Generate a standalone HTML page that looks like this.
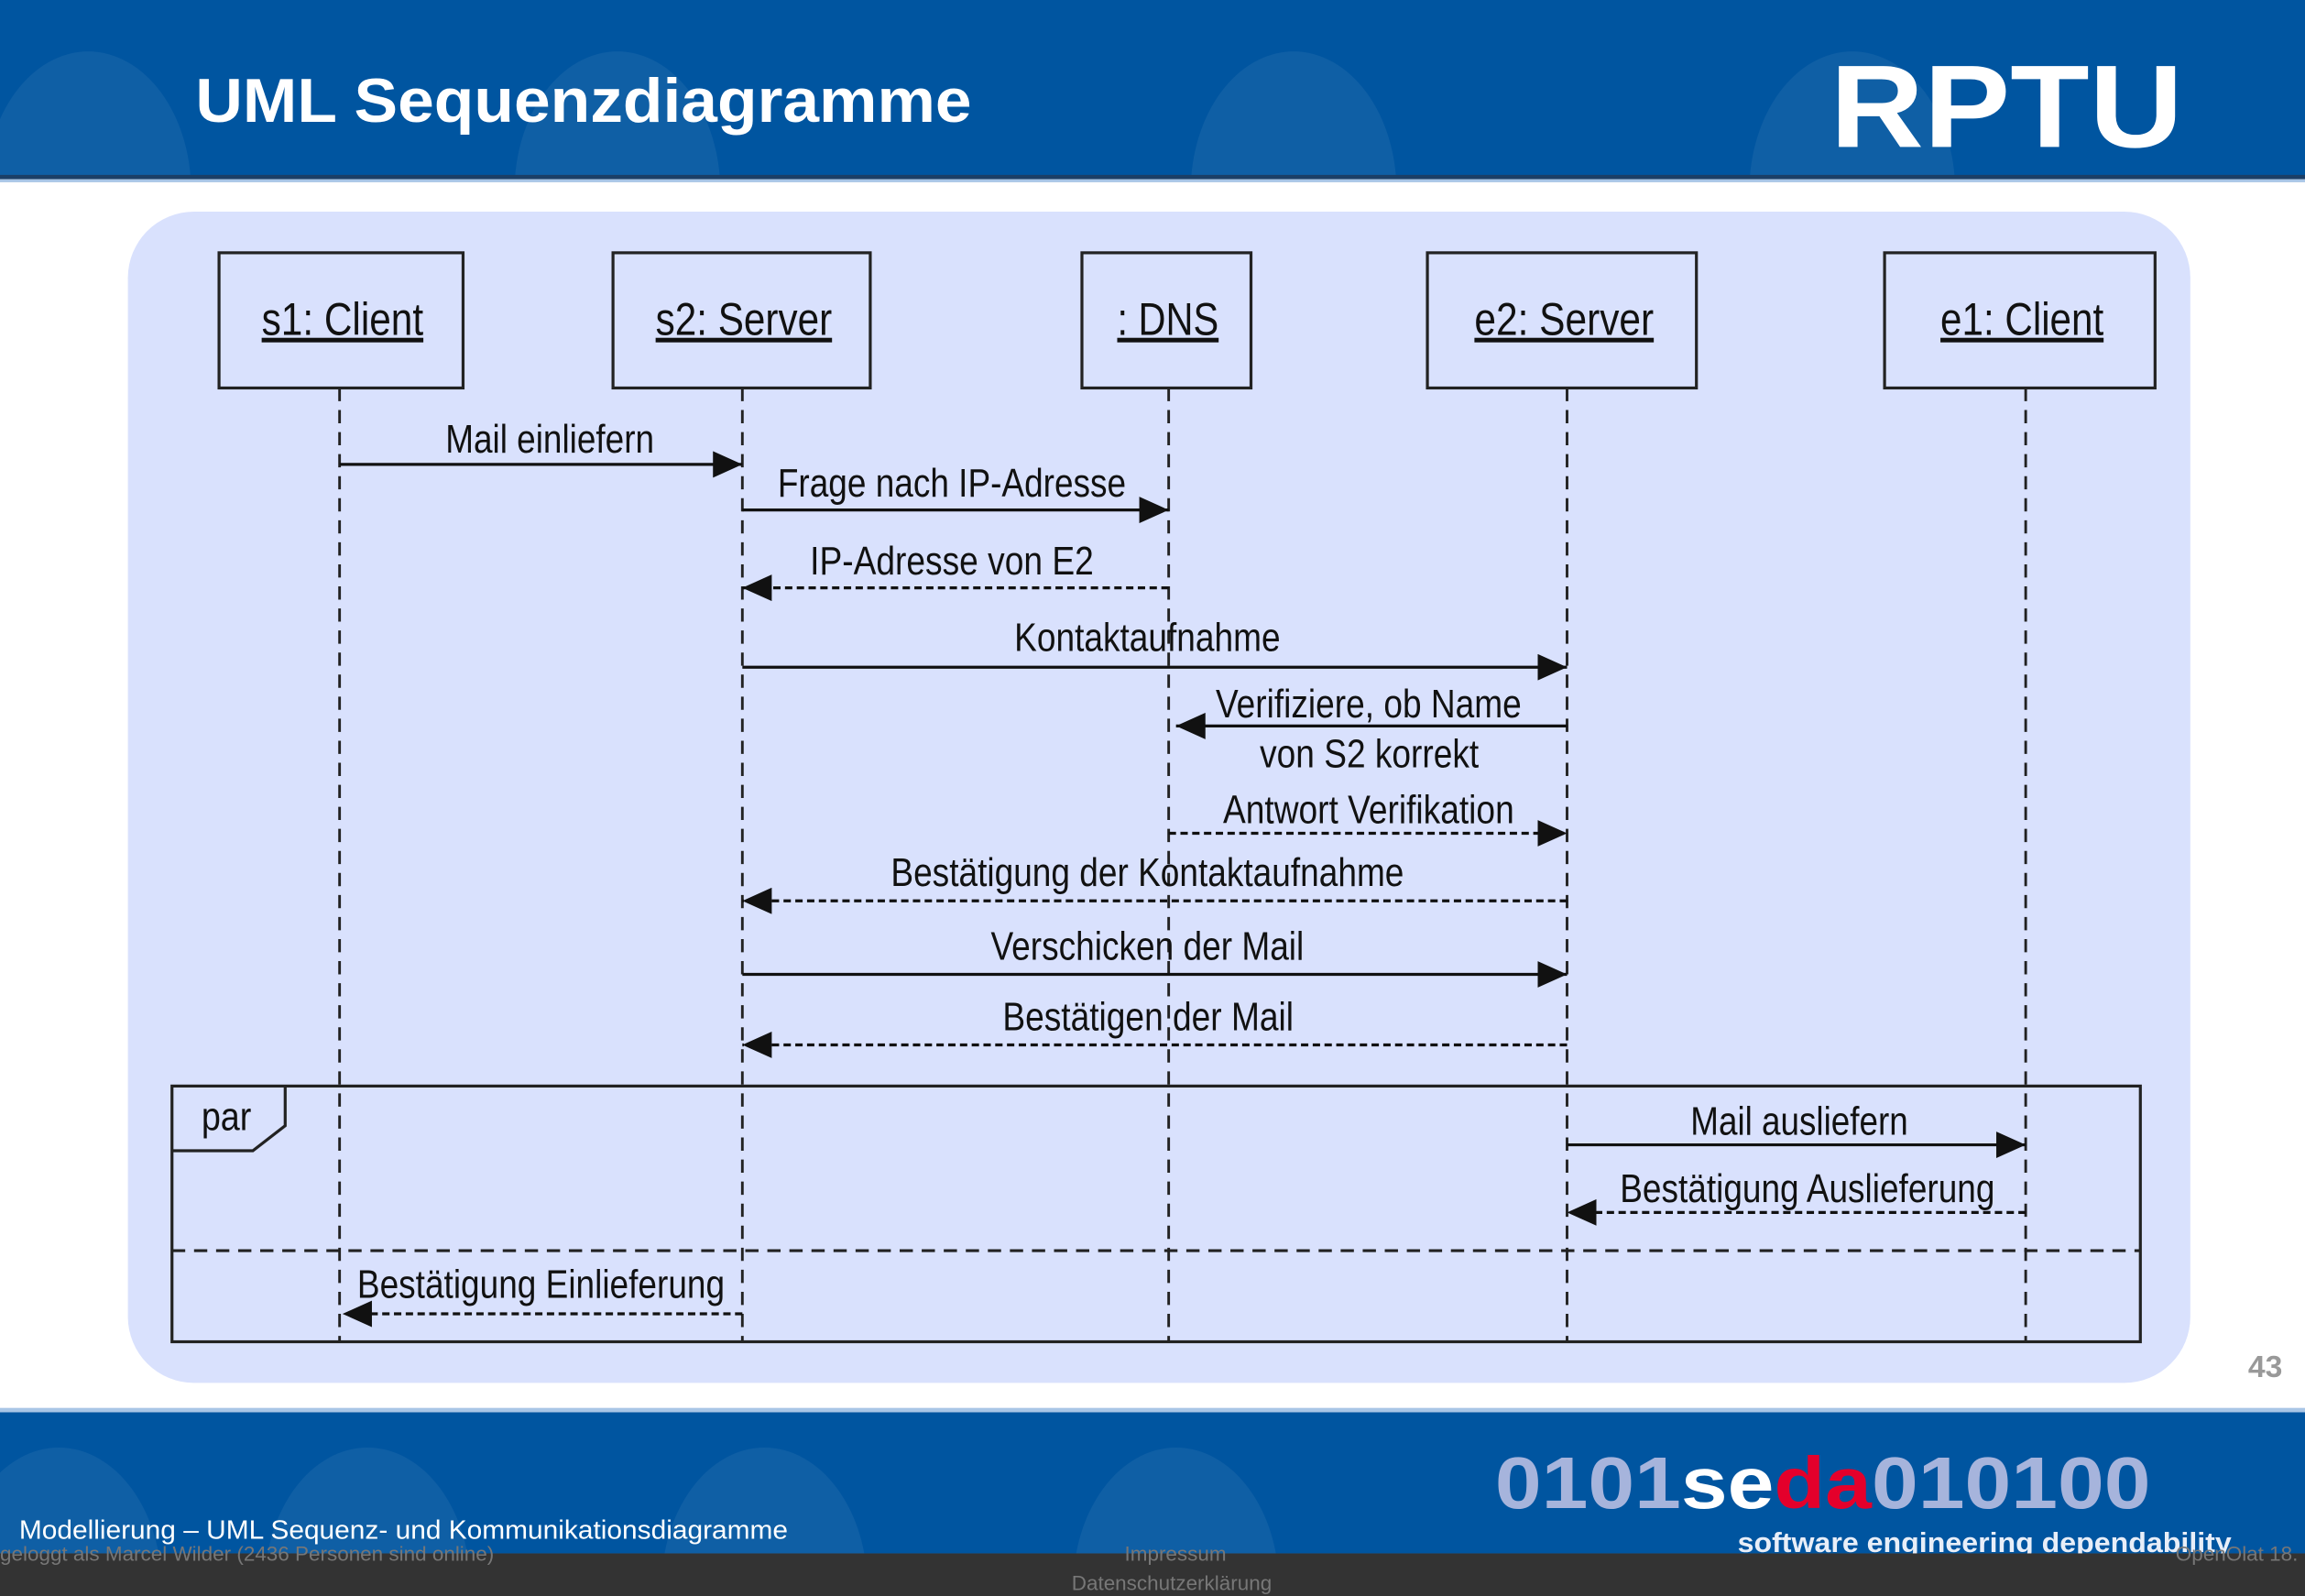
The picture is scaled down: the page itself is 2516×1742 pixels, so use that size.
<!DOCTYPE html>
<html><head><meta charset="utf-8"><style>
html,body{margin:0;padding:0;background:#fff;overflow:hidden;width:2516px;height:1742px}
svg{display:block;position:absolute;left:0;top:0;overflow:hidden}
text{font-family:"Liberation Sans",sans-serif}
</style></head><body>
<svg width="2516" height="1742" viewBox="0 0 1568 1086" preserveAspectRatio="none" xmlns="http://www.w3.org/2000/svg">
<defs>
<marker id="a" markerWidth="20" markerHeight="18" refX="20" refY="9" orient="auto" markerUnits="userSpaceOnUse"><path d="M0,0 L20,9 L0,18 Z" fill="#111"/></marker>
</defs>
<rect x="0" y="0" width="1568" height="121" fill="#0055a0"/>
<g fill="#ffffff" opacity="0.06">
<ellipse cx="60" cy="130" rx="70" ry="95"/><ellipse cx="420" cy="130" rx="70" ry="95"/><ellipse cx="880" cy="130" rx="70" ry="95"/><ellipse cx="1260" cy="130" rx="70" ry="95"/>
</g>
<rect x="0" y="119" width="1568" height="3" fill="#1b3f66"/>
<rect x="0" y="122" width="1568" height="2" fill="#a9c6e6"/>
<text x="133" y="83" font-weight="bold" font-size="42" fill="#fff" textLength="528" lengthAdjust="spacingAndGlyphs">UML Sequenzdiagramme</text>
<text x="1245" y="100" font-weight="bold" font-size="80" fill="#fff" textLength="240" lengthAdjust="spacingAndGlyphs">RPTU</text>

<rect x="87" y="144" width="1403" height="797" rx="45" fill="#d9e1fd"/>

<g fill="none" stroke="#222" stroke-width="2">
<rect x="149" y="172" width="166" height="92"/>
<rect x="417" y="172" width="175" height="92"/>
<rect x="736" y="172" width="115" height="92"/>
<rect x="971" y="172" width="183" height="92"/>
<rect x="1282" y="172" width="184" height="92"/>
</g>
<g font-size="31" fill="#111" text-decoration="underline">
<text x="178" y="228" textLength="110" lengthAdjust="spacingAndGlyphs">s1: Client</text>
<text x="446" y="228" textLength="120" lengthAdjust="spacingAndGlyphs">s2: Server</text>
<text x="760" y="228" textLength="69" lengthAdjust="spacingAndGlyphs">: DNS</text>
<text x="1003" y="228" textLength="122" lengthAdjust="spacingAndGlyphs">e2: Server</text>
<text x="1320" y="228" textLength="111" lengthAdjust="spacingAndGlyphs">e1: Client</text>
</g>
<g stroke="#222" stroke-width="1.8" stroke-dasharray="9,6">
<line x1="231" y1="264" x2="231" y2="913"/>
<line x1="505" y1="264" x2="505" y2="913"/>
<line x1="795" y1="264" x2="795" y2="913"/>
<line x1="1066" y1="264" x2="1066" y2="913"/>
<line x1="1378" y1="264" x2="1378" y2="913"/>
</g>
<g fill="none" stroke="#222" stroke-width="2">
<rect x="117" y="739" width="1339" height="174"/>
<path d="M117,783 L172,783 L194,766 L194,739"/>
<line x1="117" y1="851" x2="1456" y2="851" stroke-dasharray="9,6"/>
</g>
<text x="137" y="769" font-size="27" fill="#111" textLength="34" lengthAdjust="spacingAndGlyphs">par</text>

<g stroke="#111" stroke-width="2" fill="none">
<line x1="231" y1="316" x2="505" y2="316" marker-end="url(#a)"/>
<line x1="505" y1="347" x2="795" y2="347" marker-end="url(#a)"/>
<line x1="795" y1="400" x2="505" y2="400" stroke-dasharray="5,3" marker-end="url(#a)"/>
<line x1="505" y1="454" x2="1066" y2="454" marker-end="url(#a)"/>
<line x1="1066" y1="494" x2="800" y2="494" marker-end="url(#a)"/>
<line x1="795" y1="567" x2="1066" y2="567" stroke-dasharray="5,3" marker-end="url(#a)"/>
<line x1="1066" y1="613" x2="505" y2="613" stroke-dasharray="5,3" marker-end="url(#a)"/>
<line x1="505" y1="663" x2="1066" y2="663" marker-end="url(#a)"/>
<line x1="1066" y1="711" x2="505" y2="711" stroke-dasharray="5,3" marker-end="url(#a)"/>
<line x1="1066" y1="779" x2="1378" y2="779" marker-end="url(#a)"/>
<line x1="1378" y1="825" x2="1066" y2="825" stroke-dasharray="5,3" marker-end="url(#a)"/>
<line x1="505" y1="894" x2="233" y2="894" stroke-dasharray="5,3" marker-end="url(#a)"/>
</g>
<g font-size="27" fill="#111">
<text x="303" y="308" textLength="142" lengthAdjust="spacingAndGlyphs">Mail einliefern</text>
<text x="529" y="338" textLength="237" lengthAdjust="spacingAndGlyphs">Frage nach IP-Adresse</text>
<text x="551" y="391" textLength="193" lengthAdjust="spacingAndGlyphs">IP-Adresse von E2</text>
<text x="690" y="443" textLength="181" lengthAdjust="spacingAndGlyphs">Kontaktaufnahme</text>
<text x="827" y="488" textLength="208" lengthAdjust="spacingAndGlyphs">Verifiziere, ob Name</text>
<text x="857" y="522" textLength="149" lengthAdjust="spacingAndGlyphs">von S2 korrekt</text>
<text x="832" y="560" textLength="198" lengthAdjust="spacingAndGlyphs">Antwort Verifikation</text>
<text x="606" y="603" textLength="349" lengthAdjust="spacingAndGlyphs">Bestätigung der Kontaktaufnahme</text>
<text x="674" y="653" textLength="213" lengthAdjust="spacingAndGlyphs">Verschicken der Mail</text>
<text x="682" y="701" textLength="198" lengthAdjust="spacingAndGlyphs">Bestätigen der Mail</text>
<text x="1150" y="772" textLength="148" lengthAdjust="spacingAndGlyphs">Mail ausliefern</text>
<text x="1102" y="818" textLength="255" lengthAdjust="spacingAndGlyphs">Bestätigung Auslieferung</text>
<text x="243" y="883" textLength="250" lengthAdjust="spacingAndGlyphs">Bestätigung Einlieferung</text>
</g>
<text x="1541" y="937" font-size="21" font-weight="bold" fill="#999" text-anchor="middle">43</text>

<rect x="0" y="958" width="1568" height="3" fill="#a9c6e6"/>
<rect x="0" y="961" width="1568" height="96" fill="#0055a0"/>
<g fill="#ffffff" opacity="0.06">
<ellipse cx="40" cy="1080" rx="70" ry="95"/><ellipse cx="250" cy="1080" rx="70" ry="95"/><ellipse cx="520" cy="1080" rx="70" ry="95"/><ellipse cx="800" cy="1080" rx="70" ry="95"/>
</g>
<text x="1017" y="1026" font-size="50" font-weight="bold" textLength="446" lengthAdjust="spacingAndGlyphs"><tspan fill="#a6b4dc">0101</tspan><tspan fill="#ffffff">se</tspan><tspan fill="#e4002b">da</tspan><tspan fill="#a6b4dc">010100</tspan></text>
<text x="1182" y="1056" font-size="19" font-weight="bold" fill="#e8eef8" textLength="336" lengthAdjust="spacingAndGlyphs">software engineering dependability</text>
<text x="13" y="1047" font-size="18" fill="#fff" textLength="523" lengthAdjust="spacingAndGlyphs">Modellierung – UML Sequenz- und Kommunikationsdiagramme</text>
<rect x="0" y="1057" width="1568" height="29" fill="#333"/>
<g font-size="14" fill="#777">
<text x="0" y="1062">geloggt als Marcel Wilder   (2436 Personen sind online)</text>
<text x="765" y="1062">Impressum</text>
<text x="729" y="1082">Datenschutzerklärung</text>
<text x="1480" y="1062">OpenOlat 18.</text>
</g>
</svg>
</body></html>
